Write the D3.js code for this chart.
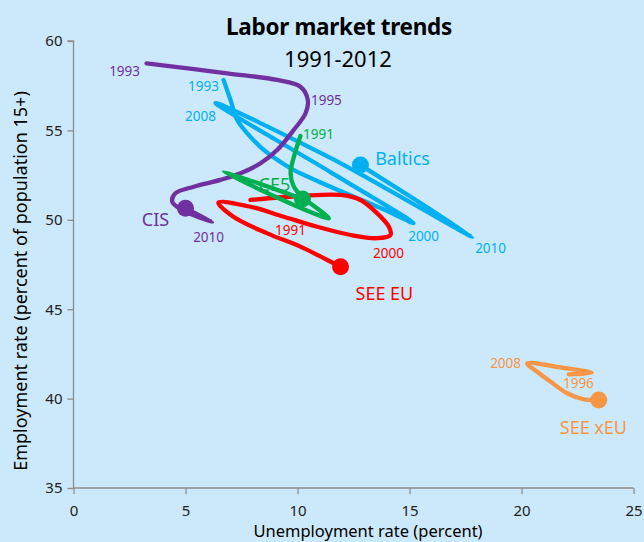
<!DOCTYPE html>
<html>
<head>
<meta charset="utf-8">
<script src="https://cdn.jsdelivr.net/npm/d3@7"></script>
<style>
  html, body { margin: 0; padding: 0; background: #cce9fb; }
  svg { display: block; font-family: "Noto Sans", "Open Sans", sans-serif; }
</style>
</head>
<body>
<svg id="chart" width="644" height="542"></svg>
<script>
// values: [unemployment %, employment %]
var baltics = [[6.70,57.82],[7.01,56.70],[7.31,55.58],[7.75,54.85],[8.35,54.07],[9.11,53.34],[9.82,52.79],[11.47,51.85],[13.71,50.66],[15.18,49.82],
               [11.47,52.67],[6.34,56.53],[11.47,53.46],[17.81,49.04],[12.81,53.06]]
var cis = [[3.26,58.75],[6.86,58.19],[9.09,57.82],[10.13,57.44],[10.46,56.70],[10.36,55.96],[9.83,55.02],[9.09,53.90],[8.35,53.16],[7.46,52.60],
           [6.56,52.23],[5.37,51.85],[4.55,51.48],[4.41,51.01],[4.78,50.60],[6.19,49.89],[5.00,50.64]]
var seeEu = [[7.90,51.11],[10.13,51.33],[11.92,51.39],[12.81,51.11],[13.56,50.36],[14.08,49.61],[14.15,49.15],[13.56,48.97],[12.37,49.15],[10.88,49.61],
             [9.39,50.17],[7.90,50.73],[6.47,50.96],[7.14,50.17],[8.65,49.24],[10.13,48.50],[11.33,47.75],[11.92,47.38]]
var ce5 = [[10.13,54.69],[9.84,53.53],[9.69,52.60],[9.84,51.85],[10.21,51.29],[11.40,50.08],[6.71,52.69],[10.22,51.16]]
var seeXeu = [[22.11,41.36],[23.13,41.44],[21.74,41.74],[20.25,41.97],[20.70,41.50],[21.29,40.95],[22.04,40.30],[22.78,39.96],[23.45,39.92]]

var groups = ['Baltics', 'CIS', 'SEE EU', 'CE5', 'SEE xEU']
var colors = ['#00b0f0', '#7030a0', '#ff0000', '#00b050', '#f79646']
var seriesList = [baltics, cis, seeEu, ce5, seeXeu]

var xTicks = [0, 5, 10, 15, 20, 25]
var yTicks = [35, 40, 45, 50, 55, 60]

// year labels and group names, anchored in data units
var yearLabels = [
  { g: 'CIS', text: '1993', x: 2.28, y: 58.32 },
  { g: 'CIS', text: '1995', x: 11.29, y: 56.70 },
  { g: 'CIS', text: '2010', x: 6.03, y: 49.04 },
  { g: 'Baltics', text: '1993', x: 5.80, y: 57.48 },
  { g: 'Baltics', text: '2008', x: 5.67, y: 55.81 },
  { g: 'Baltics', text: '2000', x: 15.63, y: 49.09 },
  { g: 'Baltics', text: '2010', x: 18.62, y: 48.42 },
  { g: 'CE5', text: '1991', x: 10.94, y: 54.80 },
  { g: 'SEE EU', text: '1991', x: 9.69, y: 49.43 },
  { g: 'SEE EU', text: '2000', x: 14.06, y: 48.14 },
  { g: 'SEE xEU', text: '2008', x: 19.29, y: 41.99 },
  { g: 'SEE xEU', text: '1996', x: 22.54, y: 40.87 }
]
var nameLabels = [
  { g: 'Baltics', x: 14.69, y: 53.46 },
  { g: 'CIS', x: 3.66, y: 50.04 },
  { g: 'CE5', x: 8.97, y: 52.00 },
  { g: 'SEE EU', x: 13.88, y: 45.91 },
  { g: 'SEE xEU', x: 23.21, y: 38.41 }
]

var svg = d3.select('#chart')
var x = d3.scaleLinear().domain([0, 25]).range([73.5, 633.5])
var y = d3.scaleLinear().domain([35, 60]).range([488, 41])
var color = d3.scaleOrdinal().domain(groups).range(colors)

// axes
var xAxis = svg.append('g')
    .attr('transform', 'translate(0,488)')
    .call(d3.axisBottom(x).tickValues(xTicks).tickSize(6).tickPadding(11))
var yAxis = svg.append('g')
    .attr('transform', 'translate(73.5,0)')
    .call(d3.axisLeft(y).tickValues(yTicks).tickSize(6).tickPadding(5))

svg.selectAll('.domain, .tick line').attr('stroke', '#8c8c8c').attr('stroke-width', 1.3)
svg.selectAll('.tick text').attr('font-size', 15).attr('fill', '#222')
    .attr('font-family', '"Noto Sans", sans-serif')
xAxis.select('.domain').attr('d', 'M73.5,0H633.5')
yAxis.select('.domain').attr('d', 'M-6,41H0V488')

// titles
svg.append('text').attr('x', 339).attr('y', 35).attr('text-anchor', 'middle')
    .attr('font-size', 22.5).attr('font-weight', 'bold').attr('letter-spacing', -0.3)
    .text('Labor market trends')
svg.append('text').attr('x', 338).attr('y', 67).attr('text-anchor', 'middle')
    .attr('font-size', 22).text('1991-2012')
svg.append('text').attr('x', 368).attr('y', 537).attr('text-anchor', 'middle')
    .attr('font-size', 16.5).text('Unemployment rate (percent)')
svg.append('text').attr('transform', 'translate(27,281) rotate(-90)').attr('text-anchor', 'middle')
    .attr('font-size', 18).text('Employment rate (percent of population 15+)')

// labels
svg.append('g').selectAll('text').data(yearLabels).join('text')
    .attr('x', d => x(d.x)).attr('y', d => y(d.y))
    .attr('text-anchor', 'middle').attr('dominant-baseline', 'central')
    .attr('font-size', 13.5).attr('fill', d => color(d.g))
    .text(d => d.text)
svg.append('g').selectAll('text').data(nameLabels).join('text')
    .attr('x', d => x(d.x)).attr('y', d => y(d.y))
    .attr('text-anchor', 'middle').attr('dominant-baseline', 'central')
    .attr('font-size', 18).attr('fill', d => color(d.g))
    .text(d => d.g)

// trajectories
var line = d3.line()
    .x(d => x(d[0])).y(d => y(d[1]))
    .curve(d3.curveCatmullRom.alpha(0.5))

var lines = svg.append('g')
seriesList.forEach((s, i) => {
    lines.append('path')
        .attr('d', line(s))
        .attr('fill', 'none')
        .attr('stroke', colors[i])
        .attr('stroke-width', 4.3)
        .attr('stroke-linecap', 'round')
        .attr('stroke-linejoin', 'round')
    // last year gets the dot
    var last = s[s.length - 1]
    lines.append('circle')
        .attr('cx', x(last[0])).attr('cy', y(last[1]))
        .attr('r', 8.5).attr('fill', colors[i])
})
</script>
</body>
</html>
